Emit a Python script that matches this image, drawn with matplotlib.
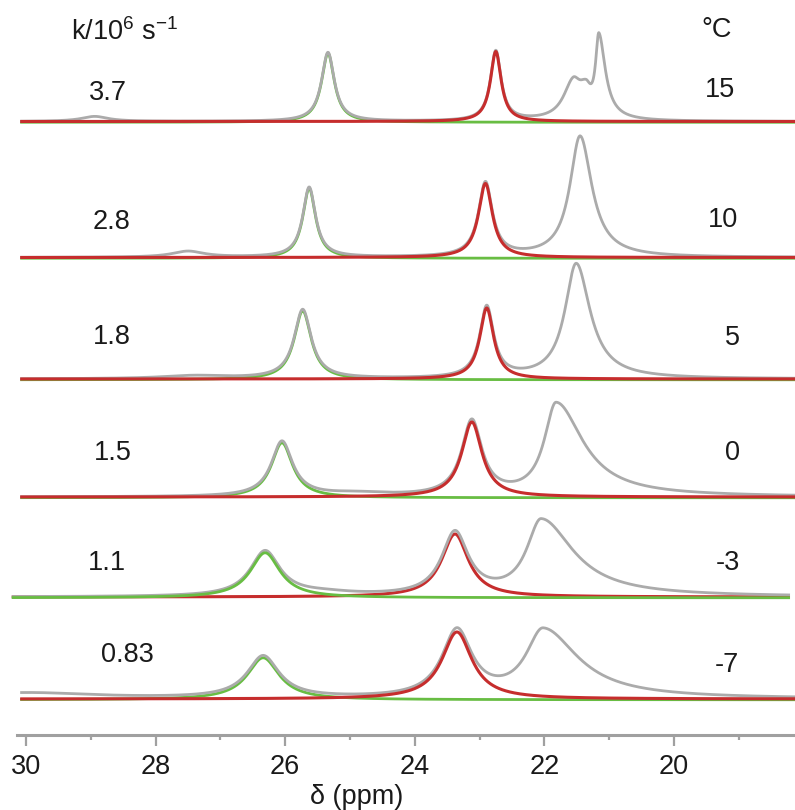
import numpy as np
import matplotlib
matplotlib.use("Agg")
import matplotlib.pyplot as plt

plt.rcParams["font.family"] = ["Liberation Sans", "DejaVu Sans"]
plt.rcParams["mathtext.default"] = "regular"

# ---------------- data ----------------
temps_c = ["15", "10", "5", "0", "-3", "-7"]
rates_k = ["3.7", "2.8", "1.8", "1.5", "1.1", "0.83"]
stack_offset = [613.5, 477.5, 356, 238, 138, 36]   # vertical stacking of traces

# fitted component 1 (green)
green_ppm = [25.34, 25.63, 25.73, 26.05, 26.31, 26.34]
green_height = [69, 70, 69, 55, 45, 42]
green_hwhm = [0.12, 0.12, 0.16, 0.20, 0.28, 0.30]

# fitted component 2 (red)
red_ppm = [22.75, 22.91, 22.89, 23.12, 23.38, 23.35]
red_height = [70, 74, 71, 75, 63, 67]
red_hwhm = [0.10, 0.13, 0.13, 0.19, 0.25, 0.28]

# extra components present only in the measured (gray) spectrum
# half widths on the high-ppm side (hi) and on the low-ppm side (lo)
gray_ppm = [[28.94, 21.56, 21.36, 21.16], [27.50, 21.45], [27.40, 21.51],
            [24.90, 21.82], [25.40, 22.05], [30.00, 22.02]]
gray_height = [[5, 34, 24, 80], [6, 121], [3, 115],
               [3, 93], [3, 76], [6, 68]]
gray_hwhm_hi = [[0.25, 0.18, 0.14, 0.06], [0.30, 0.19], [0.60, 0.21],
                [0.60, 0.22], [0.60, 0.27], [1.30, 0.32]]
gray_hwhm_lo = [[0.25, 0.14, 0.10, 0.12], [0.30, 0.22], [0.60, 0.26],
                [0.60, 0.50], [0.60, 0.60], [1.30, 0.65]]

major_ticks = [30, 28, 26, 24, 22, 20]
minor_ticks = [29, 27, 25, 23, 21, 19]

# ---------------- style ----------------
RED = "#c62d2d"
GREEN = "#68bd43"
GRAY = "#ababab"
AXGRAY = "#a0a0a0"
FS = 19.5
W, H = 795, 810
trace_left = [30.09, 30.09, 30.09, 30.09, 30.22, 30.09]
trace_right = [18.13, 18.13, 18.13, 18.13, 18.21, 18.13]


def lorentz(x, pos, h, w_hi, w_lo=None):
    if w_lo is None:
        w_lo = w_hi
    w = np.where(x > pos, w_hi, w_lo)
    return h * w ** 2 / ((x - pos) ** 2 + w ** 2)


fig = plt.figure(figsize=(W / 100, H / 100), dpi=100)
ax = fig.add_axes([17 / W, 75 / H, 778 / W, 735 / H])
ax.set_xlim(30.139, 18.133)
ax.set_ylim(0, 735)

for i in range(len(temps_c)):
    x = np.linspace(trace_left[i], trace_right[i], 2400)
    g = lorentz(x, green_ppm[i], green_height[i], green_hwhm[i])
    r = lorentz(x, red_ppm[i], red_height[i], red_hwhm[i])
    extra = np.zeros_like(x)
    for p, h, wh, wl in zip(gray_ppm[i], gray_height[i],
                            gray_hwhm_hi[i], gray_hwhm_lo[i]):
        extra += lorentz(x, p, h, wh, wl)
    total = g + r + extra
    off = stack_offset[i]
    if i == 4:
        zr, zgy, zg = 2, 3, 4
    else:
        zg, zgy, zr = 2, 3, 4
    ax.plot(x, off + g - 0.8, color=GREEN, lw=2.0, zorder=zg, clip_on=False,
            solid_capstyle="butt")
    ax.plot(x, off + total, color=GRAY, lw=2.0, zorder=zgy, clip_on=False,
            solid_capstyle="butt")
    ax.plot(x, off + r, color=RED, lw=2.2, zorder=zr, clip_on=False,
            solid_capstyle="butt")

# axes styling
for s in ("left", "right", "top"):
    ax.spines[s].set_visible(False)
ax.spines["bottom"].set_color(AXGRAY)
ax.spines["bottom"].set_linewidth(2.2)
ax.set_yticks([])
ax.set_xticks(major_ticks)
ax.set_xticks(minor_ticks, minor=True)
ax.set_xticklabels([str(t) for t in major_ticks])
ax.tick_params(axis="x", which="major", direction="out", length=8, width=1.6,
               color=AXGRAY, pad=6, labelsize=FS, labelcolor="#1a1a1a")
ax.tick_params(axis="x", which="minor", direction="out", length=3.5, width=1.6,
               color=AXGRAY)
ax.set_xlabel("δ (ppm)", fontsize=FS, color="#1a1a1a")
ax.xaxis.set_label_coords((357 - 17) / 778, -(797 - 735) / 735)
ax.xaxis.label.set_va("center")


def ftext(px, py, s, **kw):
    fig.text(px / W, 1 - py / H, s, ha="center", va="center", fontsize=FS,
             color="#1a1a1a", **kw)


ftext(125, 32, r"k/10$^{6}$ s$^{-1}$")
ftext(717, 30, "°C")
rate_xy = [(108, 93), (112, 222), (112, 337), (113, 453), (107, 563), (127, 655)]
temp_xy = [(720, 90), (723, 220), (732, 338), (733, 453), (728, 563), (727, 665)]
for (px, py), s in zip(rate_xy, rates_k):
    ftext(px, py, s)
for (px, py), s in zip(temp_xy, temps_c):
    ftext(px, py, s)

fig.savefig("out.png", dpi=100, facecolor="white")
